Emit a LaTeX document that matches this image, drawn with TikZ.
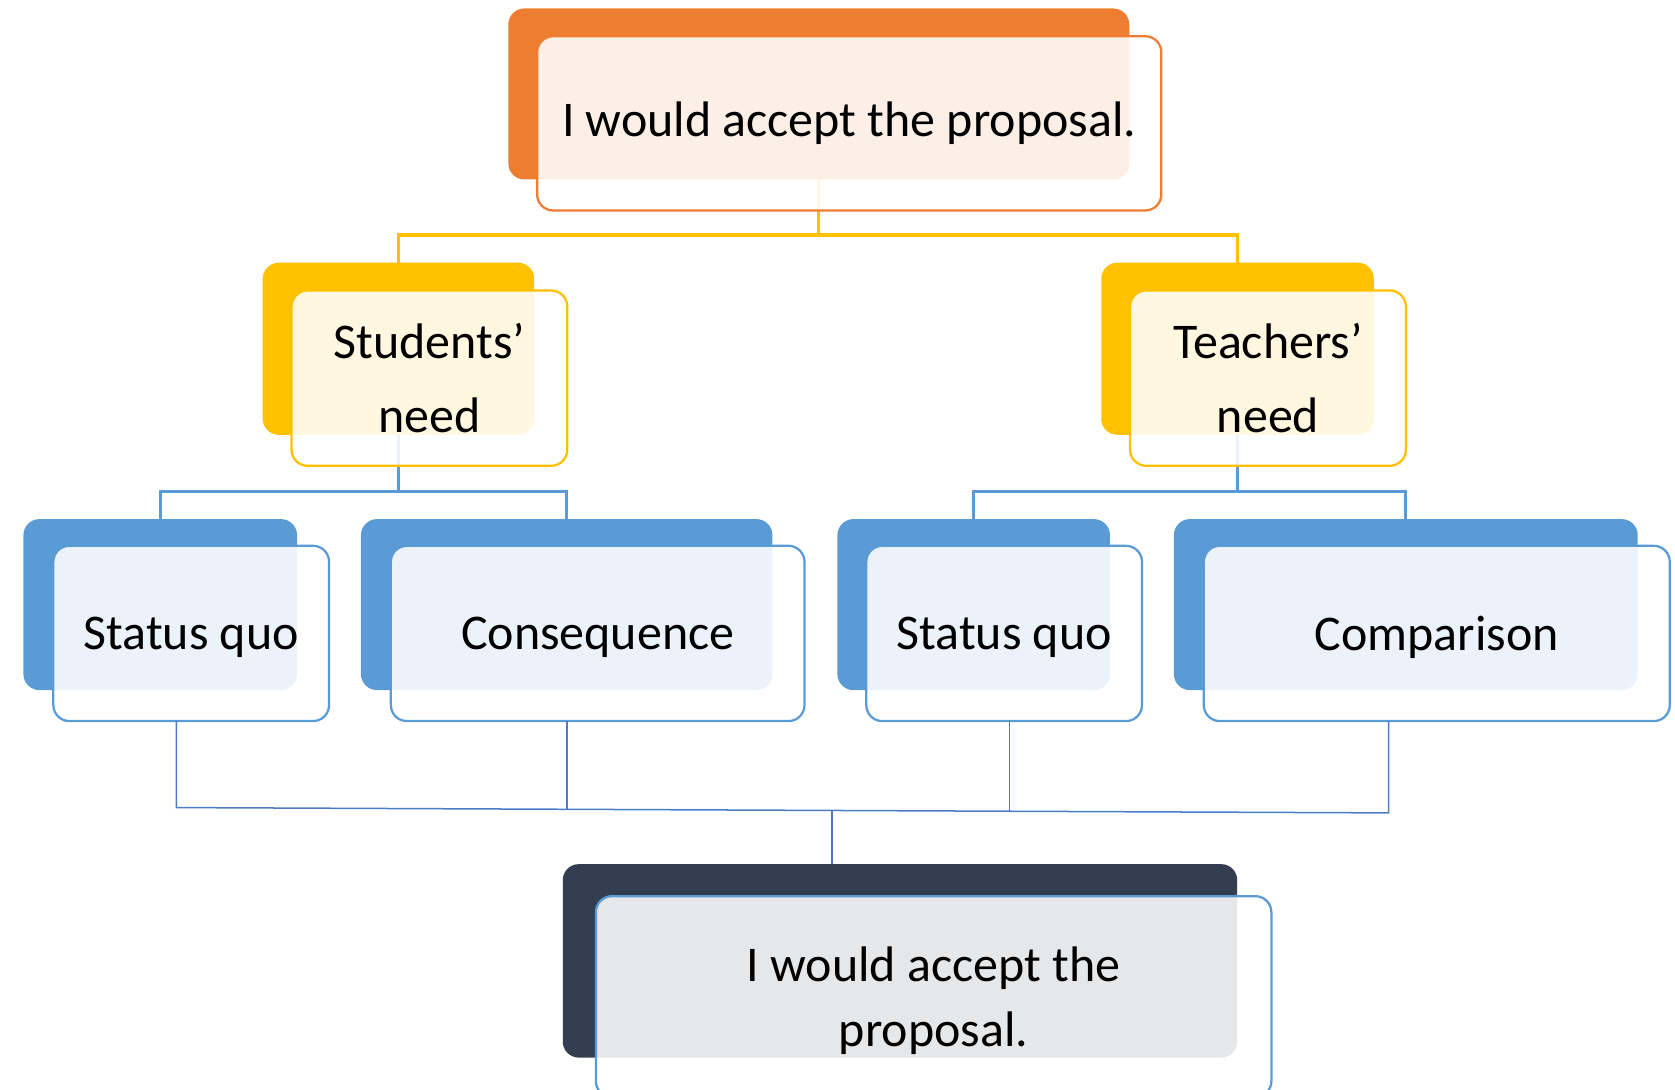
\documentclass[tikz,border=0pt]{standalone}
\usepackage{fontspec}
\setmainfont{Carlito}
\definecolor{corange}{HTML}{ED7D31}
\definecolor{cgold}{HTML}{FFC000}
\definecolor{cblue}{HTML}{5B9BD5}
\definecolor{cdark}{HTML}{333F50}
\definecolor{cline}{HTML}{4A7CC8}
\tikzset{
  backbox/.style={draw=none, fill=#1, rounded corners=0.15cm, inner sep=0pt, outer sep=0pt},
  frontbox/.style={draw=#1, line width=0.6pt, fill=white, fill opacity=0.88, text opacity=1,
    rounded corners=0.15cm, inner sep=0pt, outer sep=0pt, align=center,
    font=\fontsize{13.3}{16}\selectfont},
  lowtext/.style={text depth=0pt},
  yconn/.style={draw=cgold, line width=0.9pt},
  bconn/.style={draw=cblue, line width=0.7pt},
  thinconn/.style={draw=cline, line width=0.4pt},
}
\begin{document}
\begin{tikzpicture}[x=0.01cm, y=-0.01cm]
\useasboundingbox (0,0) rectangle (1568,1019.5);
% back boxes
\node[backbox=corange, minimum width=5.81cm, minimum height=1.60cm] (topb) at (766.5,88) {};
\node[backbox=cgold, minimum width=2.54cm, minimum height=1.61cm] (studb) at (373,326.5) {};
\node[backbox=cgold, minimum width=2.55cm, minimum height=1.61cm] (tchb) at (1158.5,326.5) {};
\node[backbox=cblue, minimum width=2.56cm, minimum height=1.60cm] (sqab) at (150,566) {};
\node[backbox=cblue, minimum width=3.85cm, minimum height=1.60cm] (consb) at (530.5,566) {};
\node[backbox=cblue, minimum width=2.55cm, minimum height=1.60cm] (sqbb) at (911.5,566) {};
\node[backbox=cblue, minimum width=4.34cm, minimum height=1.60cm] (compb) at (1316,566) {};
\node[backbox=cdark, minimum width=6.31cm, minimum height=1.81cm] (botb) at (842.5,899.5) {};
% connectors level 1 and 2
\coordinate (t1) at (766.5,220);
\draw[yconn] (topb.south) -- (t1);
\draw[yconn] (studb.north) |- (t1) -| (tchb.north);
\coordinate (s1) at (373,460);
\draw[bconn] (studb.south) -- (s1);
\draw[bconn] (sqab.north) |- (s1) -| (consb.north);
\coordinate (s2) at (1158.5,460);
\draw[bconn] (tchb.south) -- (s2);
\draw[bconn] (sqbb.north) |- (s2) -| (compb.north);
% front boxes
\node[frontbox=corange, minimum width=5.84cm, minimum height=1.63cm] (topf) at (795,115.5) {I would accept the proposal.};
\node[frontbox=cgold, minimum width=2.58cm, minimum height=1.64cm, font=\fontsize{13.3}{19.9}\selectfont] (studf) at (402,354) {Students’\\need};
\node[frontbox=cgold, minimum width=2.58cm, minimum height=1.64cm, font=\fontsize{13.3}{19.9}\selectfont] (tchf) at (1187,354) {Teachers’\\need};
\node[frontbox=cblue, lowtext, minimum width=2.58cm, minimum height=1.64cm] (sqaf) at (179,593) {Status quo};
\node[frontbox=cblue, lowtext, minimum width=3.87cm, minimum height=1.64cm] (consf) at (559.5,593) {Consequence};
\node[frontbox=cblue, lowtext, minimum width=2.58cm, minimum height=1.64cm] (sqbf) at (940,593) {Status quo};
\node[frontbox=cblue, lowtext, minimum width=4.36cm, minimum height=1.64cm] (compf) at (1345,593) {Comparison};
\node[frontbox=cblue, lowtext, minimum width=6.32cm, minimum height=1.88cm, font=\fontsize{13.3}{17.1}\selectfont] (botf) at (874,933) {I would accept the\\proposal.};
% bottom connectors
\coordinate (j1) at (165,756);
\coordinate (j2) at (531,757.6);
\coordinate (jm) at (779,758.7);
\coordinate (j3) at (945,759.4);
\coordinate (j4) at (1300,761);
\draw[thinconn] (sqaf.south -| j1) -- (j1) -- (j4) -- (compf.south -| j4);
\draw[thinconn] (consf.south -| j2) -- (j2);
\draw[thinconn] (sqbf.south -| j3) -- (j3);
\draw[thinconn] (jm) -- (jm |- botb.north);
\end{tikzpicture}
\end{document}
